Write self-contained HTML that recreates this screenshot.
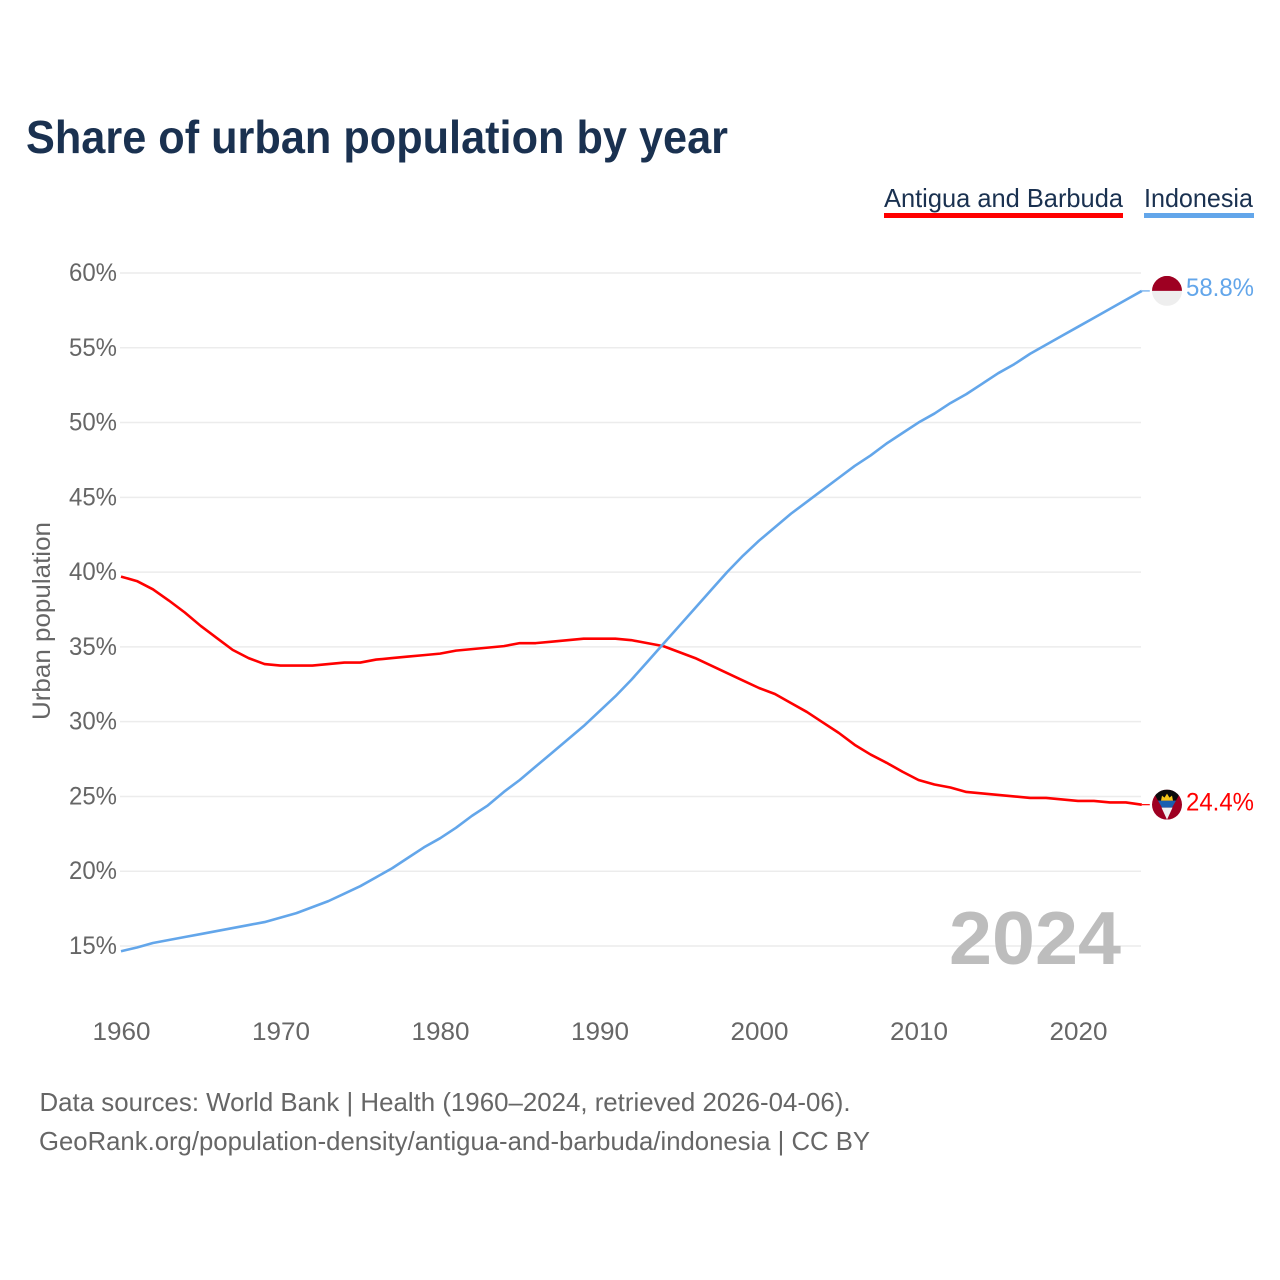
<!DOCTYPE html>
<html lang="en">
<head>
<meta charset="utf-8">
<title>Share of urban population by year</title>
<style>
html,body{margin:0;padding:0;background:#fff;width:1280px;height:1280px;overflow:hidden}
svg{display:block;font-family:"Liberation Sans",sans-serif}
</style>
</head>
<body>
<svg id="chart" width="1280" height="1280" viewBox="0 0 1280 1280" xmlns="http://www.w3.org/2000/svg">
  <defs>
    <clipPath id="flag-clip-id"><circle cx="0" cy="0" r="15"/></clipPath>
    <clipPath id="flag-clip-ag"><circle cx="0" cy="0" r="15"/></clipPath>
  </defs>
  <text x="26" y="153" font-size="46" font-weight="700" fill="#1a3150" textLength="702" lengthAdjust="spacingAndGlyphs">Share of urban population by year</text>

  <g>
    <text x="884" y="207" font-size="26" fill="#1a3150" textLength="239" lengthAdjust="spacingAndGlyphs">Antigua and Barbuda</text>
    <rect x="884" y="213" width="239" height="5" fill="#ff0000"/>
  </g>
  <g>
    <text x="1144" y="207" font-size="26" fill="#1a3150" textLength="109" lengthAdjust="spacingAndGlyphs">Indonesia</text>
    <rect x="1144" y="213" width="110" height="5" fill="#63a6ea"/>
  </g>

  <g id="grid"></g>
  <g id="y-ticks"></g>
  <g id="x-ticks"></g>

  <text transform="translate(50,720) rotate(-90)" font-size="25" fill="#666666" textLength="198" lengthAdjust="spacingAndGlyphs">Urban population</text>

  <text x="949" y="964" font-size="75" font-weight="700" fill="#bdbdbd" textLength="172" lengthAdjust="spacingAndGlyphs">2024</text>

  <g id="series"></g>

  <g id="flag-id">
    <g clip-path="url(#flag-clip-id)">
      <rect x="-15" y="-15" width="30" height="15" fill="#9e0022"/>
      <rect x="-15" y="0" width="30" height="15" fill="#eeeeee"/>
    </g>
  </g>
  <g id="flag-ag">
    <g clip-path="url(#flag-clip-ag)">
      <rect x="-15" y="-15" width="30" height="30" fill="#9e0022"/>
      <polygon points="-15,-15 15,-15 9,-4 -9,-4" fill="#0c0c0c"/>
      <polygon points="-9,-4 9,-4 5,3 -5,3" fill="#1a5fb0"/>
      <polygon points="-5.5,3 5.5,3 0,15 " fill="#f1f1f1"/>
      <polygon points="-6,-4 -5,-9 -2.5,-7 0,-11 2.5,-7 5,-9 6,-4" fill="#f5c518"/>
    </g>
  </g>

  <text id="value-id" x="1186" y="296" font-size="25" fill="#63a6ea" textLength="68" lengthAdjust="spacingAndGlyphs">58.8%</text>
  <text id="value-ag" x="1186" y="810" font-size="25" fill="#ff0000" textLength="68" lengthAdjust="spacingAndGlyphs">24.4%</text>

  <text x="39.5" y="1111" font-size="26" fill="#666666" textLength="811" lengthAdjust="spacingAndGlyphs">Data sources: World Bank | Health (1960–2024, retrieved 2026-04-06).</text>
  <text x="39" y="1150" font-size="26" fill="#666666" textLength="831" lengthAdjust="spacingAndGlyphs">GeoRank.org/population-density/antigua-and-barbuda/indonesia | CC BY</text>
</svg>
<script>
var startYear = 1960;
var yTicks = [15, 20, 25, 30, 35, 40, 45, 50, 55, 60];
var xTicks = [1960, 1970, 1980, 1990, 2000, 2010, 2020];
var antiguaValues = [39.7,39.4,38.85,38.1,37.3,36.4,35.6,34.8,34.25,33.85,33.75,33.75,33.75,33.85,33.95,33.95,34.15,34.25,34.35,34.45,34.55,34.75,34.85,34.95,35.05,35.25,35.25,35.35,35.45,35.55,35.55,35.55,35.45,35.25,35.05,34.65,34.25,33.75,33.25,32.75,32.25,31.85,31.25,30.65,29.95,29.25,28.45,27.8,27.25,26.65,26.1,25.8,25.6,25.3,25.2,25.1,25.0,24.9,24.9,24.8,24.7,24.7,24.6,24.6,24.45];
var indonesiaValues = [14.65,14.9,15.2,15.4,15.6,15.8,16.0,16.2,16.4,16.6,16.9,17.2,17.6,18.0,18.5,19.0,19.6,20.2,20.9,21.6,22.2,22.9,23.7,24.4,25.3,26.1,27.0,27.9,28.8,29.7,30.7,31.7,32.8,34.0,35.2,36.4,37.6,38.8,40.0,41.1,42.1,43.0,43.9,44.7,45.5,46.3,47.1,47.8,48.6,49.3,50.0,50.6,51.3,51.9,52.6,53.3,53.9,54.6,55.2,55.8,56.4,57.0,57.6,58.2,58.8];

var NS = 'http://www.w3.org/2000/svg';
function xScale(year) { return 121 + (year - 1960) * 15.95; }
function yScale(v) { return 946 - (v - 15) * 14.956; }

var gridG = document.getElementById('grid');
var yG = document.getElementById('y-ticks');
yTicks.forEach(function (t) {
  var line = document.createElementNS(NS, 'line');
  
  
  line.setAttribute('x1', 120);
  line.setAttribute('x2', 1141);
  line.setAttribute('y1', yScale(t));
  line.setAttribute('y2', yScale(t));
  line.setAttribute('stroke', '#ececec');
  line.setAttribute('stroke-width', 1.5);
  gridG.appendChild(line);
  var label = document.createElementNS(NS, 'text');
  
  
  label.setAttribute('x', 69);
  label.setAttribute('y', yScale(t) + 8);
  label.setAttribute('font-size', 25);
  label.setAttribute('fill', '#666666');
  label.setAttribute('textLength', 48);
  label.setAttribute('lengthAdjust', 'spacingAndGlyphs');
  label.textContent = t + '%';
  yG.appendChild(label);
});

var xG = document.getElementById('x-ticks');
xTicks.forEach(function (t) {
  var label = document.createElementNS(NS, 'text');
  
  
  label.setAttribute('x', xScale(t) + 0.5);
  label.setAttribute('y', 1040);
  label.setAttribute('font-size', 25);
  label.setAttribute('fill', '#666666');
  label.setAttribute('text-anchor', 'middle');
  label.setAttribute('textLength', 58);
  label.setAttribute('lengthAdjust', 'spacingAndGlyphs');
  label.textContent = t;
  xG.appendChild(label);
});

function buildPath(values) {
  return values.map(function (v, i) {
    return (i ? 'L' : 'M') + xScale(startYear + i).toFixed(2) + ' ' + yScale(v).toFixed(2);
  }).join(' ');
}

var seriesG = document.getElementById('series');
var antiguaPath = document.createElementNS(NS, 'path');


antiguaPath.setAttribute('d', buildPath(antiguaValues));
antiguaPath.setAttribute('fill', 'none');
antiguaPath.setAttribute('stroke', '#ff0000');
antiguaPath.setAttribute('stroke-width', 2.6);
antiguaPath.setAttribute('stroke-linejoin', 'round');
seriesG.appendChild(antiguaPath);

var indonesiaPath = document.createElementNS(NS, 'path');


indonesiaPath.setAttribute('d', buildPath(indonesiaValues));
indonesiaPath.setAttribute('fill', 'none');
indonesiaPath.setAttribute('stroke', '#63a6ea');
indonesiaPath.setAttribute('stroke-width', 2.6);
indonesiaPath.setAttribute('stroke-linejoin', 'round');
seriesG.appendChild(indonesiaPath);

function placeEnd(values, color, flagId, labelId, connectorName, labelOffset) {
  var last = values[values.length - 1];
  var lastX = xScale(startYear + values.length - 1);
  var lastY = yScale(last);
  var connector = document.createElementNS(NS, 'line');
  
  
  connector.setAttribute('x1', lastX);
  connector.setAttribute('x2', lastX + 8);
  connector.setAttribute('y1', lastY);
  connector.setAttribute('y2', lastY);
  connector.setAttribute('stroke', color);
  connector.setAttribute('stroke-width', 1.2);
  seriesG.appendChild(connector);
  document.getElementById(flagId).setAttribute('transform', 'translate(1167,' + lastY + ')');
  document.getElementById(labelId).setAttribute('y', lastY + labelOffset);
  document.getElementById(labelId).textContent = last.toFixed(1) + '%';
}
placeEnd(indonesiaValues, '#63a6ea', 'flag-id', 'value-id', 'connector-indonesia', 6);
placeEnd(antiguaValues, '#ff0000', 'flag-ag', 'value-ag', 'connector-antigua', 6);
document.getElementById('value-id').setAttribute('y', 296);
document.getElementById('value-ag').textContent = '24.4%';
</script>
</body>
</html>
